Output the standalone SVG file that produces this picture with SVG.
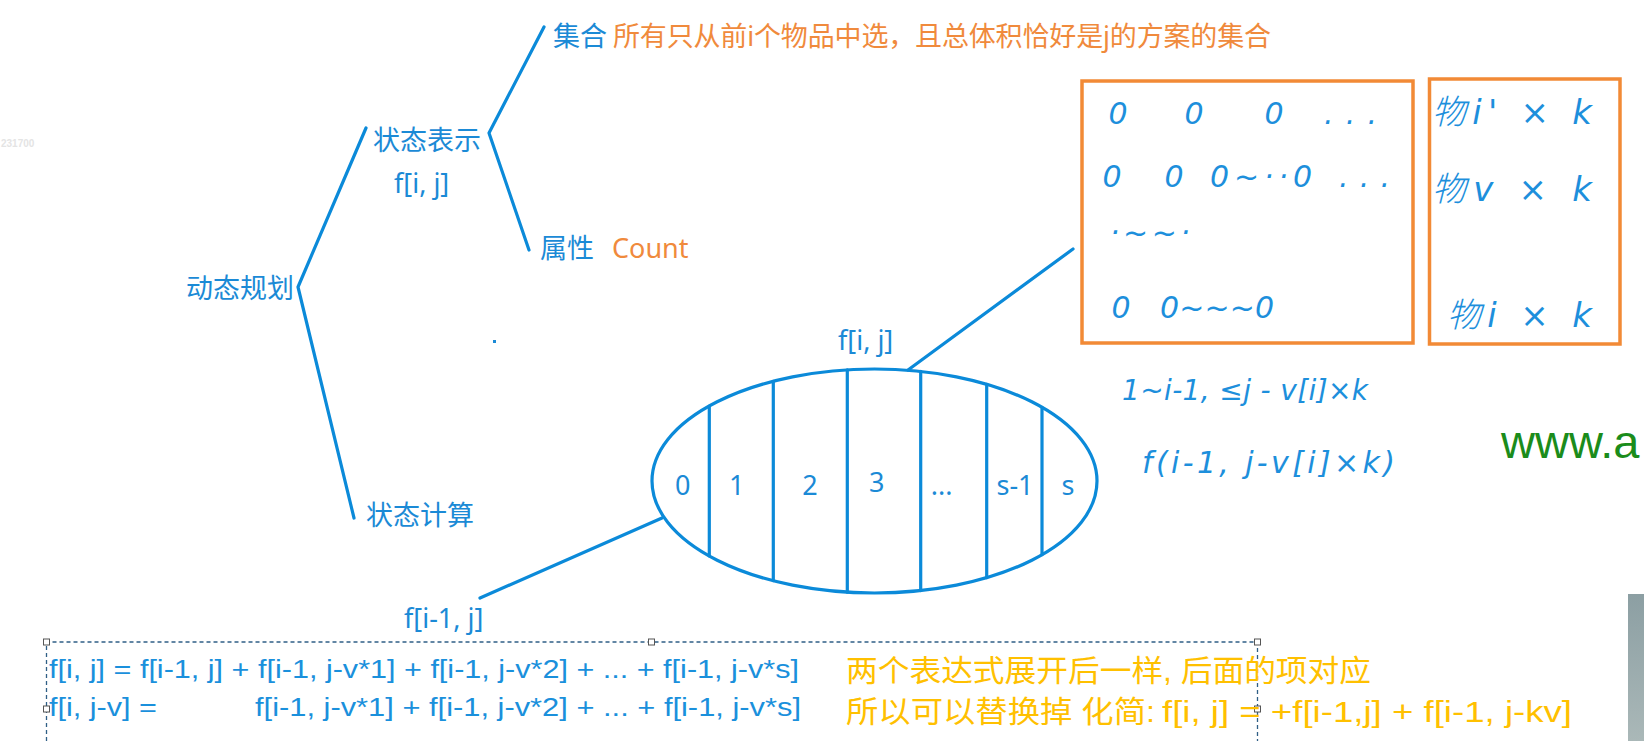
<svg xmlns="http://www.w3.org/2000/svg" width="1644" height="741" viewBox="0 0 1644 741">
<defs>
<style>
.t{font-family:'Noto Sans','Noto Sans CJK SC',sans-serif;font-size:27px;fill:#1b8ad6}
.o{fill:#f08a3c}
.ln{stroke:#0b8ad9;stroke-width:3.2;fill:none;stroke-linejoin:round;stroke-linecap:round}
.hw{font-family:'DejaVu Sans','Noto Sans CJK SC',sans-serif;font-style:italic;font-weight:300;fill:#1d8fdc}
.fm{font-family:'Liberation Sans','Noto Sans CJK SC',sans-serif;font-size:26px;fill:#1a90dc}
.ye{font-family:'Liberation Sans','Noto Sans CJK SC',sans-serif;font-size:30px;fill:#ffc000}
.box{fill:none;stroke:#f28a36;stroke-width:3.5}
.hd{fill:#fff;stroke:#555;stroke-width:1}
</style>
<linearGradient id="bar" x1="0" y1="0" x2="0" y2="1">
<stop offset="0" stop-color="#8c9fa3"/>
<stop offset="1" stop-color="#aab8b8"/>
</linearGradient>
</defs>
<rect width="1644" height="741" fill="#ffffff"/>
<text x="1" y="147" font-family="Liberation Sans, sans-serif" font-size="10" font-weight="bold" fill="#e4e4e4">231700</text>

<g id="connectors">
<polyline class="ln" points="544,27 489,133 529,250"/>
<polyline class="ln" points="366,128 298,287 354,518"/>
<line class="ln" x1="908" y1="370" x2="1073" y2="249"/>
<line class="ln" x1="662" y1="518" x2="480" y2="598"/>
</g>

<g id="node-dp"><text class="t" x="186" y="298">动态规划</text></g>
<g id="node-state-rep"><text class="t" x="373" y="150">状态表示</text><text class="t" x="394" y="193">f[i, j]</text></g>
<g id="node-set"><text class="t" x="553" y="46">集合</text><text class="t o" x="613" y="46" textLength="658">所有只从前i个物品中选，且总体积恰好是j的方案的集合</text></g>
<g id="node-attr"><text class="t" x="540" y="258">属性</text><text class="t o" x="612" y="258">Count</text></g>
<g id="node-state-calc"><text class="t" x="366" y="525">状态计算</text></g>
<rect x="493" y="340" width="3" height="3" fill="#1b8ad6"/>

<g id="node-partition">
<ellipse class="ln" cx="874.5" cy="481" rx="222.5" ry="112"/>
<line class="ln" x1="709.3" y1="406" x2="709.3" y2="556"/>
<line class="ln" x1="773.3" y1="381.3" x2="773.3" y2="580.7"/>
<line class="ln" x1="847.3" y1="369.8" x2="847.3" y2="592.2"/>
<line class="ln" x1="920.7" y1="371.4" x2="920.7" y2="590.6"/>
<line class="ln" x1="986.7" y1="384.3" x2="986.7" y2="577.7"/>
<line class="ln" x1="1042" y1="407.3" x2="1042" y2="554.7"/>
<g class="t" text-anchor="middle" font-size="28">
<text x="682.7" y="495">0</text>
<text x="736.7" y="495">1</text>
<text x="810" y="495">2</text>
<text x="876.7" y="492">3</text>
<text x="941.7" y="495">...</text>
<text x="1015" y="495">s-1</text>
<text x="1068" y="495">s</text>
</g>
</g>
<g id="node-fij"><text class="t" x="838" y="350">f[i, j]</text></g>
<g id="node-fi1j"><text class="t" x="404" y="628">f[i-1, j]</text></g>

<g id="node-box-left">
<rect class="box" x="1082" y="81" width="331" height="262"/>
<g class="hw" font-size="30" text-anchor="middle">
<text x="1118" y="124">0</text><text x="1194" y="124">0</text><text x="1274" y="124">0</text>
<text x="1112" y="187">0</text><text x="1174" y="187">0</text>
<text x="1121" y="318">0</text>
</g>
<g class="hw" font-size="30">
<text x="1324" y="124" textLength="53">. . .</text>
<text x="1210" y="187" textLength="102">0~··0</text>
<text x="1339" y="187" textLength="51">. . .</text>
<text x="1110" y="243" textLength="80">·~~·</text>
<text x="1160" y="318" textLength="114">0~~~0</text>
</g>
</g>

<g id="node-box-right">
<rect class="box" x="1429.5" y="79" width="190.5" height="265"/>
<g class="hw" font-size="34">
<text x="1432" y="124" textLength="160">物i' × k</text>
<text x="1432" y="201" textLength="160">物v × k</text>
<text x="1447" y="327" textLength="145">物i × k</text>
</g>
</g>

<g id="node-notes" class="hw">
<text x="1122" y="400" font-size="28" textLength="246">1~i-1, ≤j - v[i]×k</text>
<text x="1142" y="473" font-size="30" textLength="253">f(i-1, j-v[i]×k)</text>
</g>

<g id="node-watermark"><text x="1501" y="458" font-family="Liberation Sans, sans-serif" font-size="47" fill="#1b8c1b">www.a</text></g>
<rect x="1628" y="594" width="16" height="147" fill="url(#bar)"/>

<g id="node-selection">
<path d="M46.5 741 V642 H1257.5 V741" fill="none" stroke="#2f5f86" stroke-width="1.3" stroke-dasharray="4 3"/>
<rect class="hd" x="43.5" y="639" width="6" height="6"/>
<rect class="hd" x="648.5" y="639" width="6" height="6"/>
<rect class="hd" x="1254.5" y="639" width="6" height="6"/>
<rect class="hd" x="43.5" y="706" width="6" height="6"/>
<rect class="hd" x="1254.5" y="706" width="6" height="6"/>
</g>

<g id="node-formulas">
<text class="fm" x="49" y="678" textLength="750" lengthAdjust="spacingAndGlyphs">f[i, j] = f[i-1, j] + f[i-1, j-v*1] + f[i-1, j-v*2] + ... + f[i-1, j-v*s]</text>
<text class="fm" x="49" y="716" textLength="108" lengthAdjust="spacingAndGlyphs">f[i, j-v] =</text>
<text class="fm" x="255" y="716" textLength="546" lengthAdjust="spacingAndGlyphs">f[i-1, j-v*1] +  f[i-1, j-v*2] + ... + f[i-1, j-v*s]</text>
</g>

<g id="node-explain">
<text class="ye" x="846" y="681" textLength="525" lengthAdjust="spacingAndGlyphs">两个表达式展开后一样, 后面的项对应</text>
<text class="ye" x="846" y="722" textLength="309" lengthAdjust="spacingAndGlyphs">所以可以替换掉 化简:</text>
<text class="ye" x="1162" y="722" textLength="410" lengthAdjust="spacingAndGlyphs">f[i, j] = +f[i-1,j] + f[i-1, j-kv]</text>
</g>
</svg>
